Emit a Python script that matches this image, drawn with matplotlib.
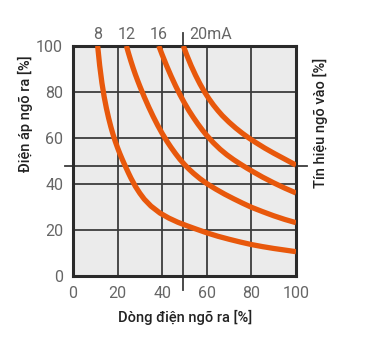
import matplotlib
matplotlib.use("Agg")
import matplotlib.pyplot as plt
import matplotlib.transforms as mtransforms

# curve data (output current % vs output voltage %)
curve_labels = ["8", "12", "16", "20mA"]
curve_x = [
    [11.1, 12, 13, 14, 15, 16, 17, 18, 19, 20, 21, 22, 23, 24, 25, 26, 28, 30, 32, 35,
     39, 43, 47, 51, 55, 60, 65, 70, 75, 80, 85, 90, 95, 100],
    [24, 25, 26, 27, 28, 29, 30, 32, 34, 36, 38, 40, 42, 44, 46, 48, 50, 52, 54, 57,
     60, 64, 68, 72, 76, 80, 85, 90, 95, 100],
    [38.5, 40, 42, 44, 46, 48, 50, 52, 54, 56, 58, 60, 63, 66, 69, 72, 75, 78, 81, 85,
     90, 95, 100],
    [49.5, 51, 53, 55, 57, 59, 61, 63, 65, 67, 70, 73, 76, 79, 82, 86, 90, 95, 100],
]
curve_y = [
    [100, 91.5, 84, 78, 73, 68.7, 64.9, 61.5, 58.5, 55.8, 53.3, 51.0, 48.8, 46.7, 44.6,
     42.6, 39.0, 36.0, 33.4, 30.4, 27.4, 25.2, 23.4, 21.9, 20.5, 18.8, 17.3, 16.0, 14.8,
     13.7, 12.8, 12.0, 11.3, 10.6],
    [100, 96.6, 93.4, 90.4, 87.6, 85.0, 82.5, 77.8, 73.4, 69.3, 65.5, 62.0, 58.8, 55.9,
     53.2, 50.7, 48.5, 46.5, 44.7, 42.3, 40.2, 37.8, 35.6, 33.6, 31.7, 29.9, 28.0, 26.2,
     24.6, 23.2],
    [100, 96.2, 91.4, 86.9, 82.7, 78.8, 75.2, 71.9, 68.9, 66.1, 63.5, 61.1, 57.9, 55.1,
     52.7, 50.6, 48.7, 46.9, 45.2, 43.0, 40.5, 38.2, 36.1],
    [100, 96.1, 91.4, 87.2, 83.4, 80.0, 77.0, 74.3, 71.9, 69.7, 66.85, 64.3, 62.0, 59.9,
     58.0, 55.6, 53.4, 50.8, 48.2],
]
x_ticks = [0, 20, 40, 60, 80, 100]
y_ticks = [0, 20, 40, 60, 80, 100]
ref_x = 49.5   # 50 % reference line (input)
ref_y = 48     # 50 % reference line (output)

orange = "#e8580c"
grid_c = "#3c3c3c"
tick_c = "#666666"
label_c = "#222222"

plt.rcParams["font.family"] = ["Roboto", "DejaVu Sans"]

fig = plt.figure(figsize=(3.7, 3.4), dpi=100)
ax = fig.add_axes([0.197, 0.188, 0.603, 0.677])
ax.set_facecolor("#ebebeb")

ax.set_xlim(0, 100)
ax.set_ylim(0, 100)
ax.set_xticks(x_ticks)
ax.set_yticks(y_ticks)
ax.tick_params(length=0, labelsize=11.5, labelcolor=tick_c, pad=7)

ax.grid(True, color=grid_c, linewidth=1.3, zorder=1)
ax.set_axisbelow(True)
for sp in ax.spines.values():
    sp.set_linewidth(2.2)
    sp.set_color("#2a2a2a")

# reference lines running past the frame
ax.plot([-0.035, 1.05], [ref_y, ref_y], color=grid_c, lw=1.3, zorder=2,
        transform=ax.get_yaxis_transform(), clip_on=False)
ax.plot([ref_x, ref_x], [-0.06, 1.055], color=grid_c, lw=1.3, zorder=2,
        transform=ax.get_xaxis_transform(), clip_on=False)

for xs, ys in zip(curve_x, curve_y):
    ax.plot(xs, ys, color=orange, lw=3.8, solid_capstyle="butt",
            solid_joinstyle="round", zorder=3)

# curve labels above the frame
trans = mtransforms.blended_transform_factory(ax.transData, ax.transAxes)
for i, (lab, xs) in enumerate(zip(curve_labels, curve_x)):
    if i == len(curve_labels) - 1:
        ax.text(xs[0] + 2.5, 1.015, lab, transform=trans, ha="left", va="bottom",
                fontsize=11.5, color=tick_c)
    else:
        ax.text(xs[0], 1.015, lab, transform=trans, ha="center", va="bottom",
                fontsize=11.5, color=tick_c)

fig.text(0.501, 0.065, "Dòng điện ngõ ra [%]", ha="center", va="center",
         fontsize=10.5, color=label_c, fontweight="medium")
fig.text(0.068, 0.838, "Điện áp ngõ ra [%]", ha="center", va="top", rotation=90,
         fontsize=10.5, color=label_c, fontweight="medium")
fig.text(0.865, 0.829, "Tín hiệu ngõ vào [%]", ha="center", va="top", rotation=90,
         fontsize=10.5, color=label_c, fontweight="medium")

fig.savefig("out.png", dpi=100, facecolor="white")
